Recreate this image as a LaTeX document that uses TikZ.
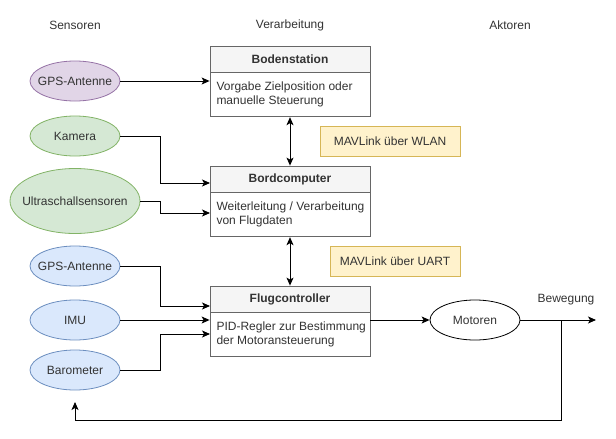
\documentclass[tikz,border=0pt]{standalone}
\usepackage{fontspec}
\setmainfont{Liberation Sans}
\usetikzlibrary{arrows.meta,shapes.geometric,calc}
\definecolor{txt}{HTML}{333333}
\definecolor{hdrfill}{HTML}{F5F5F5}
\definecolor{hdrline}{HTML}{666666}
\definecolor{purfill}{HTML}{E1D5E7}
\definecolor{purline}{HTML}{9673A6}
\definecolor{grnfill}{HTML}{D5E8D4}
\definecolor{grnline}{HTML}{82B366}
\definecolor{blufill}{HTML}{DAE8FC}
\definecolor{bluline}{HTML}{6C8EBF}
\definecolor{notefill}{HTML}{FFF2CC}
\definecolor{noteline}{HTML}{D6B656}
\newcommand{\bodytext}[2]{\makebox[147pt][l]{\begin{tabular}{@{}l@{}}#1\\#2\end{tabular}}}
\begin{document}
\begin{tikzpicture}[x=1pt,y=-1pt,
  every node/.style={font=\fontsize{12pt}{14pt}\selectfont, text=txt},
  hdr/.style={draw=hdrline, fill=hdrfill, minimum width=160pt, minimum height=26pt, inner sep=0pt, font=\fontsize{12pt}{14pt}\selectfont\bfseries, line width=0.8pt},
  body/.style={draw=hdrline, fill=white, inner xsep=6.5pt, inner ysep=0pt, minimum width=160pt, minimum height=44pt, line width=0.8pt},
  sens/.style={ellipse, draw, minimum width=90pt, minimum height=40pt, inner sep=-10pt, line width=0.8pt},
  pur/.style={sens, fill=purfill, draw=purline},
  grn/.style={sens, fill=grnfill, draw=grnline},
  blu/.style={sens, fill=blufill, draw=bluline},
  note/.style={draw=noteline, fill=notefill, minimum height=30pt, inner sep=0pt, line width=0.8pt},
  arr/.style={-{Stealth[length=8pt,width=7pt,inset=2pt]}, line width=0.9pt, black},
  darr/.style={{Stealth[length=8pt,width=7pt,inset=2pt]}-{Stealth[length=8pt,width=7pt,inset=2pt]}, line width=0.9pt, black}
]
\useasboundingbox (0,0) rectangle (616,439);

% column titles
\node (tsens) at (75,25) {Sensoren};
\node (tverarb) at (290,25) {Verarbeitung};
\node (takt) at (510,25) {Aktoren};

% processing boxes
\node[hdr] (bodenH) at (290,59) {Bodenstation};
\node[body, anchor=north] (boden) at (bodenH.south) {\bodytext{Vorgabe Zielposition oder}{manuelle Steuerung}};
\node[hdr] (bordH) at (290,179) {Bordcomputer};
\node[body, anchor=north] (bord) at (bordH.south) {\bodytext{Weiterleitung / Verarbeitung}{von Flugdaten}};
\node[hdr] (flugH) at (290,299) {Flugcontroller};
\node[body, anchor=north] (flug) at (flugH.south) {\bodytext{PID-Regler zur Bestimmung}{der Motoransteuerung}};

% notes
\node[note, minimum width=140pt] (wlan) at (390,141) {MAVLink über WLAN};
\node[note, minimum width=130pt] (uart) at (395,261) {MAVLink über UART};

% sensors
\node[pur] (gps1) at (75,81) {GPS-Antenne};
\node[grn] (kam) at (75,136) {Kamera};
\node[grn, minimum width=130pt, minimum height=65pt] (ultra) at (75,201) {Ultraschallsensoren};
\node[blu] (gps2) at (75,266) {GPS-Antenne};
\node[blu] (imu) at (75,320) {IMU};
\node[blu] (baro) at (75,370) {Barometer};

% actor
\node[sens, fill=white, draw=black] (mot) at (475,320) {Motoren};
\node (beweg) at (566,300) {Bewegung};

% connector end points
\coordinate (bordin1) at (210,183);
\coordinate (bordin2) at (210,213);
\coordinate (flugin1) at (210,306);
\coordinate (flugin3) at (210,334);
\coordinate (out) at (596,320);
\coordinate (split) at (561,320);
\coordinate (fbend) at (75,402);

% connectors
\draw[arr] (gps1.east) -- (gps1.east -| boden.west);
\draw[arr] (kam.east) -- (160.7,136) |- (bordin1);
\draw[arr] (ultra.east) -- (160.7,201) |- (bordin2);
\draw[darr] (boden.south) -- (bordH.north);
\draw[darr] (bord.south) -- (flugH.north);
\draw[arr] (gps2.east) -- (160.7,266) |- (flugin1);
\draw[arr] (imu.east) -- (imu.east -| flug.west);
\draw[arr] (baro.east) -- (160.7,370) |- (flugin3);
\draw[arr] (flug.east |- mot.west) -- (mot.west);
\draw[arr] (mot.east) -- (out);
\draw[arr] (split) -- (561,420) -| (fbend);
\end{tikzpicture}
\end{document}
